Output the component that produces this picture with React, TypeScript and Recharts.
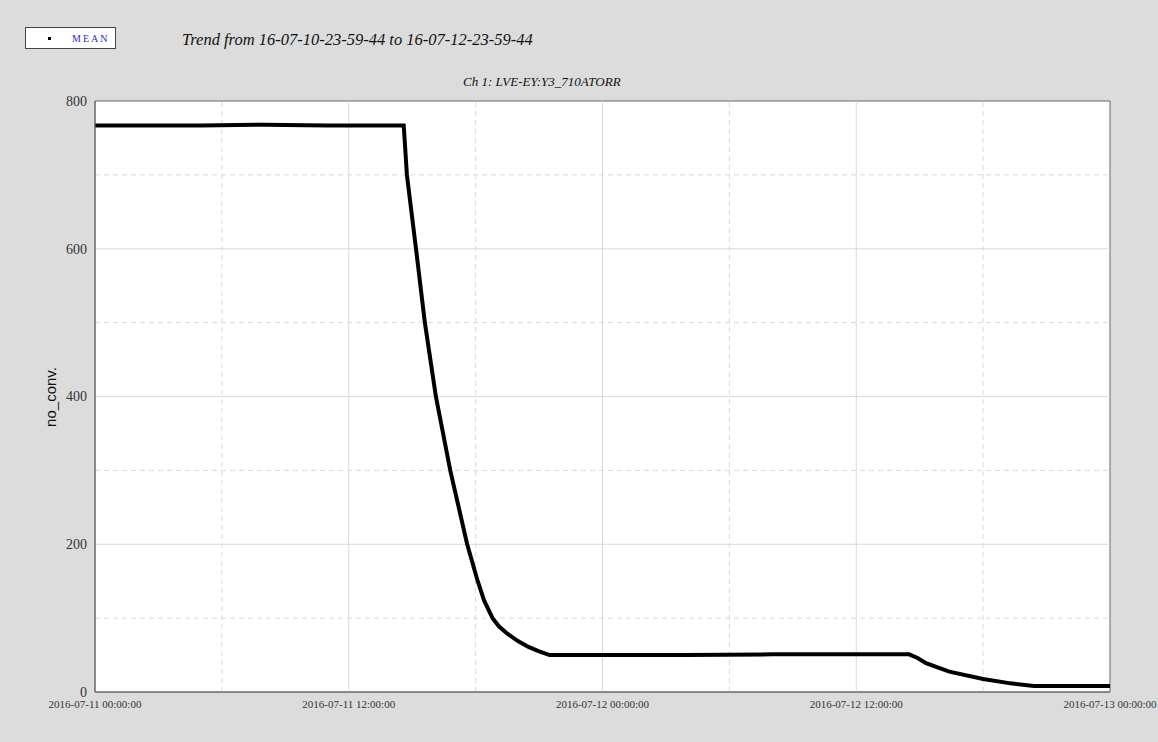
import {
  Line,
  LineChart,
  ReferenceArea,
  ReferenceLine,
  XAxis,
  YAxis,
} from 'recharts';

// hours since 2016-07-11 00:00:00
const hours = [0, 5, 8, 11, 14.6, 14.75, 15.18, 15.6, 16.12, 16.8, 17.6, 18.1, 18.4, 18.8, 19.1, 19.5, 20.0, 20.5, 21.0, 21.5, 28, 32, 38.5, 38.9, 39.3, 40.4, 42, 43.3, 44.4, 48];
const mean = [767, 767, 768, 767, 767, 700, 600, 500, 400, 300, 200, 150, 124, 100, 89, 79, 69, 61, 55, 50, 50, 51, 51, 46, 39, 27.5, 17.6, 11.7, 8, 8];

const xMajorTicks = [0, 12, 24, 36, 48];
const xMinorTicks = [6, 18, 30, 42];
const xTickLabels = [
  '2016-07-11 00:00:00',
  '2016-07-11 12:00:00',
  '2016-07-12 00:00:00',
  '2016-07-12 12:00:00',
  '2016-07-13 00:00:00',
];
const yMajorTicks = [0, 200, 400, 600, 800];
const yMinorTicks = [100, 300, 500, 700];

const data = hours.map((t, i) => ({ t, mean: mean[i] }));

const SERIF = '"Liberation Serif", "Times New Roman", serif';
const GRID = '#d9d9d9';

function LegendBox() {
  return (
    <div
      style={{
        position: 'absolute',
        left: 25,
        top: 27,
        width: 91,
        height: 22,
        background: '#fff',
        border: '1px solid #444',
        display: 'flex',
        alignItems: 'center',
        boxSizing: 'border-box',
      }}
    >
      <span style={{ width: 3, height: 3, background: '#000', marginLeft: 22, display: 'inline-block' }} />
      <span
        style={{
          marginLeft: 21,
          color: '#2b2bd0',
          fontFamily: SERIF,
          fontSize: 10,
          letterSpacing: 2,
        }}
      >
        MEAN
      </span>
    </div>
  );
}

export default function App() {
  return (
    <div
      style={{
        position: 'absolute',
        left: 0,
        top: 0,
        width: 1158,
        height: 742,
        background: '#dcdcdc',
        overflow: 'hidden',
      }}
    >
      <LineChart
        width={1158}
        height={742}
        data={data}
        margin={{ top: 101, right: 48, left: 35, bottom: 30 }}
        style={{ position: 'absolute', left: 0, top: 0 }}
      >
        <ReferenceArea x1={0} x2={48} y1={0} y2={800} fill="#fff" fillOpacity={1} stroke="none" />
        {xMinorTicks.map((x) => (
          <ReferenceLine key={`xm${x}`} x={x} stroke={GRID} strokeDasharray="5 4" />
        ))}
        {yMinorTicks.map((y) => (
          <ReferenceLine key={`ym${y}`} y={y} stroke={GRID} strokeDasharray="5 4" />
        ))}
        {xMajorTicks.slice(1, -1).map((x) => (
          <ReferenceLine key={`xM${x}`} x={x} stroke={GRID} />
        ))}
        {yMajorTicks.slice(1, -1).map((y) => (
          <ReferenceLine key={`yM${y}`} y={y} stroke={GRID} />
        ))}
        <XAxis
          type="number"
          dataKey="t"
          domain={[0, 48]}
          ticks={xMajorTicks}
          tickFormatter={(v) => xTickLabels[xMajorTicks.indexOf(v)] ?? ''}
          tick={{ fill: '#333', fontSize: 11, fontFamily: SERIF }}
          tickLine={false}
          tickSize={6}
          axisLine={{ stroke: '#666' }}
          height={20}
          interval={0}
          allowDataOverflow
        />
        <YAxis
          type="number"
          domain={[0, 800]}
          ticks={yMajorTicks}
          tick={{ fill: '#333', fontSize: 14, fontFamily: SERIF }}
          tickLine={false}
          axisLine={{ stroke: '#666' }}
          width={60}
          interval={0}
        />
        <ReferenceArea x1={0} x2={48} y1={0} y2={800} fill="none" stroke="#666" />
        <Line
          type="linear"
          dataKey="mean"
          stroke="#000"
          strokeWidth={4}
          dot={false}
          isAnimationActive={false}
        />
      </LineChart>
      <LegendBox />
      <div
        style={{
          position: 'absolute',
          left: 182,
          top: 30,
          fontFamily: SERIF,
          fontStyle: 'italic',
          fontSize: 16.5,
          color: '#111',
          whiteSpace: 'nowrap',
        }}
      >
        Trend from 16-07-10-23-59-44 to 16-07-12-23-59-44
      </div>
      <div
        style={{
          position: 'absolute',
          left: 463,
          top: 74,
          fontFamily: SERIF,
          fontStyle: 'italic',
          fontSize: 13,
          color: '#111',
          whiteSpace: 'nowrap',
        }}
      >
        Ch 1: LVE-EY:Y3_710ATORR
      </div>
      <div
        style={{
          position: 'absolute',
          left: 50,
          top: 397,
          transform: 'translate(-50%, -50%) rotate(-90deg)',
          fontFamily: '"Liberation Sans", Arial, sans-serif',
          fontSize: 15,
          color: '#111',
          whiteSpace: 'nowrap',
        }}
      >
        no_conv.
      </div>
    </div>
  );
}
